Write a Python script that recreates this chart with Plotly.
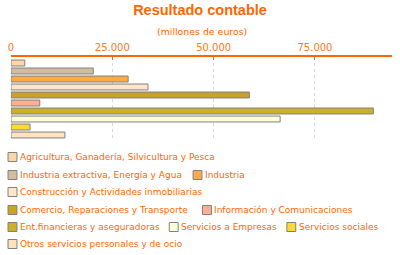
import plotly.graph_objects as go

# ---- data ----
categories = [
    "Agricultura, Ganadería, Silvicultura y Pesca",
    "Industria extractiva, Energía y Agua",
    "Industria",
    "Construcción y Actividades inmobiliarias",
    "Comercio, Reparaciones y Transporte",
    "Información y Comunicaciones",
    "Ent.financieras y aseguradoras",
    "Servicios a Empresas",
    "Servicios sociales",
    "Otros servicios personales y de ocio",
]
values = [3400, 20300, 28900, 33800, 58800, 7100, 89400, 66400, 4700, 13300]
tick_vals = [0, 25000, 50000, 75000]
title_text = "Resultado contable"
subtitle_text = "(millones de euros)"

# ---- styles ----
colors = ["#FFD6A8", "#D2BE9E", "#FFAA44", "#FFE6C8", "#C9A22E",
          "#FFAE90", "#CDB02A", "#FFFFD8", "#FFD830", "#FFE2BE"]
orange = "#FF6600"
W, H = 400, 255
ML, MR, MT, MB = 8, 8, 57, 114
PW, PH = W - ML - MR, H - MT - MB

fig = go.Figure()
fig.add_trace(go.Bar(
    x=values, y=list(range(len(categories))), orientation="h",
    marker=dict(color=colors, line=dict(color="#808080", width=1)),
    width=0.74, showlegend=False, hoverinfo="x+text", text=categories,
    textposition="none",
))

def px2x(px):
    return (px - ML) / PW

def py2y(py):
    return 1 - (py - MT) / PH

# legend layout (pixel positions of each entry: square left x, row center y)
legend_pos = [
    (5, 157), (5, 175), (191.5, 175), (5, 192), (5, 210),
    (201, 210), (5, 227), (167.5, 227), (286, 227), (5, 244),
]
shapes = []
annotations = []
for i, (sx, sy) in enumerate(legend_pos):
    shapes.append(dict(type="rect", xref="paper", yref="paper",
                       x0=px2x(sx), x1=px2x(sx + 9),
                       y0=py2y(sy + 4.5), y1=py2y(sy - 4.5),
                       fillcolor=colors[i], line=dict(color="#808080", width=1)))
    annotations.append(dict(text=categories[i], xref="paper", yref="paper",
                            x=px2x(sx + 10), y=py2y(sy), xanchor="left",
                            yanchor="middle", showarrow=False,
                            font=dict(family="DejaVu Sans", size=9, color=orange)))

annotations.append(dict(text=subtitle_text, xref="paper", yref="paper",
                        x=px2x(200), y=py2y(31), xanchor="center", yanchor="middle",
                        showarrow=False,
                        font=dict(family="DejaVu Sans", size=9.4, color=orange)))

fig.update_layout(
    width=W, height=H,
    margin=dict(l=ML, r=MR, t=MT, b=MB, pad=0),
    paper_bgcolor="white", plot_bgcolor="white",
    separators=",.",
    title=dict(text="<b>" + title_text + "</b>", x=0.5, xanchor="center",
               y=1 - 9.5 / H, yanchor="middle",
               font=dict(family="Liberation Sans", size=14.5, color=orange)),
    xaxis=dict(side="top", range=[0, 94000], tickvals=tick_vals,
               tickformat=",d", showline=True, linecolor=orange, linewidth=1.5,
               ticks="inside", ticklen=3, tickcolor=orange,
               tickfont=dict(family="DejaVu Sans", size=10, color="#FF7722"),
               showgrid=True, gridcolor="#D8D8D8", griddash="3px,3px",
               gridwidth=1, zeroline=False, fixedrange=True),
    yaxis=dict(range=[9.75, -0.75], showticklabels=False, showgrid=False,
               zeroline=False, showline=False, fixedrange=True),
    shapes=shapes, annotations=annotations, showlegend=False,
)

fig.write_html("out.html")
